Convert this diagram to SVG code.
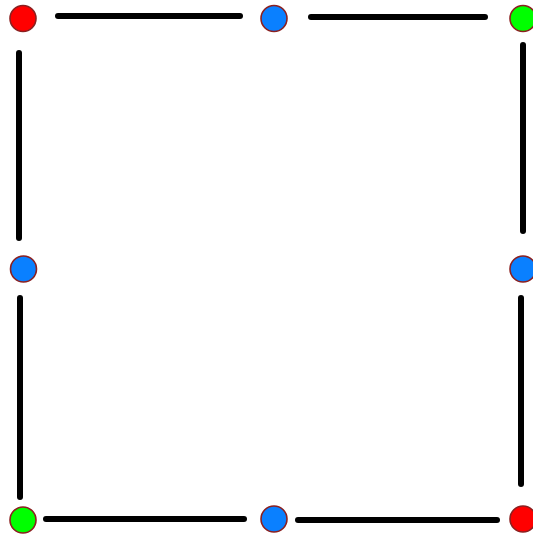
<svg xmlns="http://www.w3.org/2000/svg" width="533" height="534" viewBox="0 0 533 534">
<style>
.n{stroke:#8b2020;stroke-width:1.6}
.r{fill:#ff0000}.b{fill:#0a80ff}.g{fill:#00ff00}
.e{stroke:#000;stroke-width:6;stroke-linecap:round;fill:none}
</style>
<rect width="533" height="534" fill="#fff"/>
<g id="edges">
<line class="e" x1="58" y1="16" x2="240" y2="16"/>
<line class="e" x1="311" y1="17" x2="485" y2="17"/>
<line class="e" x1="19" y1="53" x2="19" y2="238"/>
<line class="e" x1="20" y1="298" x2="20" y2="497"/>
<line class="e" x1="46" y1="519" x2="244" y2="519"/>
<line class="e" x1="298" y1="520" x2="497" y2="520"/>
<line class="e" x1="523" y1="45" x2="523" y2="231"/>
<line class="e" x1="521" y1="298" x2="521" y2="484"/>
</g>
<g id="n1"><circle class="n r" cx="23" cy="18.5" r="13"/></g>
<g id="n2"><circle class="n b" cx="274" cy="18.5" r="13"/></g>
<g id="n3"><circle class="n g" cx="523" cy="18.5" r="13"/></g>
<g id="n4"><circle class="n b" cx="23.5" cy="269" r="13"/></g>
<g id="n5"><circle class="n b" cx="523" cy="269" r="13"/></g>
<g id="n6"><circle class="n g" cx="23" cy="520" r="13"/></g>
<g id="n7"><circle class="n b" cx="274" cy="519" r="13"/></g>
<g id="n8"><circle class="n r" cx="523" cy="519" r="13"/></g>
</svg>
